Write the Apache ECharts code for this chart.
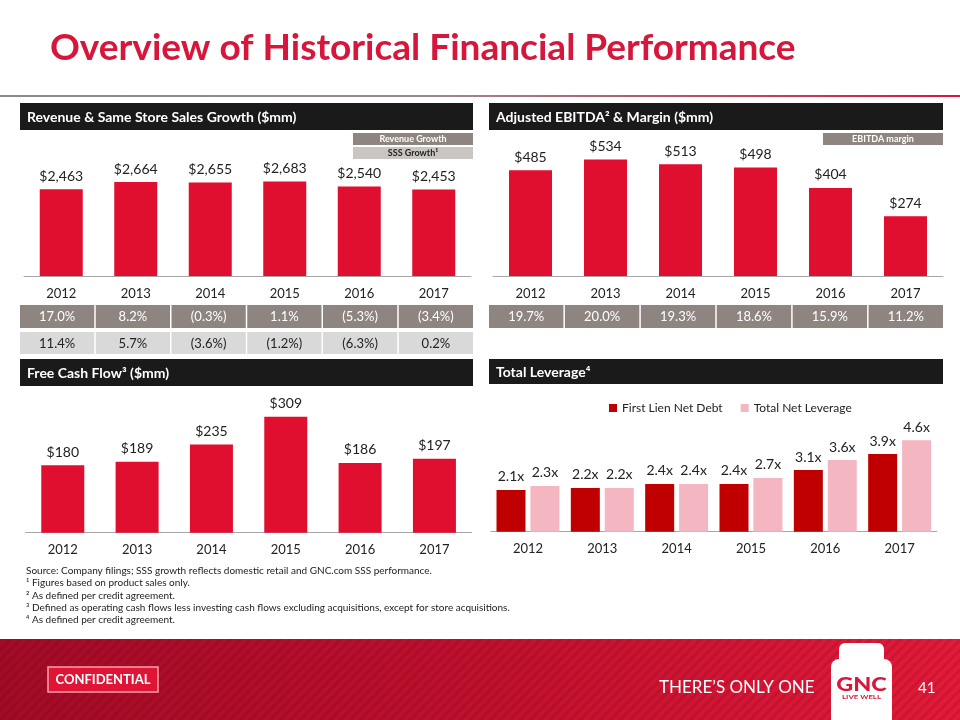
<!DOCTYPE html>
<html><head><meta charset="utf-8">
<script src="https://cdn.jsdelivr.net/npm/echarts@6/dist/echarts.min.js"></script>
<style>html,body{margin:0;padding:0;background:#fff}#c{width:960px;height:720px}</style>
</head><body><div id="c"></div><script>
// ---- data ----
const years = ['2012','2013','2014','2015','2016','2017'];
const revenue = [2463, 2664, 2655, 2683, 2540, 2453];
const revenueGrowth = ['17.0%','8.2%','(0.3%)','1.1%','(5.3%)','(3.4%)'];
const sssGrowth = ['11.4%','5.7%','(3.6%)','(1.2%)','(6.3%)','0.2%'];
const ebitda = [485, 534, 513, 498, 404, 274];
const ebitdaMargin = ['19.7%','20.0%','19.3%','18.6%','15.9%','11.2%'];
const fcf = [180, 189, 235, 309, 186, 197];
const firstLien = [2.1, 2.2, 2.4, 2.4, 3.1, 3.9];
const totalLev = [2.3, 2.2, 2.4, 2.7, 3.6, 4.6];
const footnotes = [
  'Source: Company filings; SSS growth reflects domestic retail and GNC.com SSS performance.',
  '\u00b9 Figures based on product sales only.',
  '\u00b2 As defined per credit agreement.',
  '\u00b3 Defined as operating cash flows less investing cash flows excluding acquisitions, except for store acquisitions.',
  '\u2074 As defined per credit agreement.'
];

const FONT = 'Lato, "Open Sans", sans-serif';
const RED = '#e00e2f';
const DARKCELL = '#8e8581';
const LIGHTCELL = '#d9d9d9';

function stripePattern(){
  const c = document.createElement('canvas');
  c.width = 10; c.height = 10;
  const g = c.getContext('2d');
  g.strokeStyle = 'rgba(60,0,10,0.13)';
  g.lineWidth = 3;
  g.beginPath();
  g.moveTo(-5,5); g.lineTo(5,-5);
  g.moveTo(0,10); g.lineTo(10,0);
  g.moveTo(5,15); g.lineTo(15,5);
  g.stroke();
  return c;
}

const chart = echarts.init(document.getElementById('c'), null, {renderer:'canvas'});
const graphics = [];
function txt(x, y, text, opt, extra){
  graphics.push(Object.assign({type:'text', x:x, y:y, z:10, style:Object.assign({text:text, fill:'#222', font:'13px '+FONT, textAlign:'left', textVerticalAlign:'middle'}, opt||{})}, extra||{}));
}
function rect(x, y, w, h, fill, extra){
  graphics.push(Object.assign({type:'rect', shape:{x:x,y:y,width:w,height:h}, style:{fill:fill}, z:1}, extra||{}));
}

// title
txt(50, 48, 'Overview of Historical Financial Performance', {fill:'#d6163a', font:'bold 37px '+FONT});
graphics.push({type:'rect', shape:{x:0,y:95,width:960,height:2}, z:1, style:{fill:new echarts.graphic.LinearGradient(0,0,1,0,[{offset:0,color:'#8a8a8a'},{offset:0.45,color:'#9a8a8c'},{offset:1,color:'#d8173c'}])}});

// section headers
function header(x, y, w, h, text){
  rect(x, y, w, h, '#1a1a1a');
  txt(x+7, y+h/2+1, text, {fill:'#fff', font:'bold 14px '+FONT});
}
header(20, 103, 453, 27, 'Revenue & Same Store Sales Growth ($mm)');
header(489, 103, 454, 27, 'Adjusted EBITDA\u00b2 & Margin ($mm)');
header(20, 359, 453, 27, 'Free Cash Flow\u00b3 ($mm)');
header(489, 359, 454, 25, 'Total Leverage\u2074');

// small legend boxes
function tag(x, y, w, h, fill, color, text){
  rect(x, y, w, h, fill);
  txt(x+w/2, y+h/2+0.5, text, {fill:color, font:'bold 9px '+FONT, textAlign:'center'});
}
tag(353, 133, 120, 12, DARKCELL, '#fff', 'Revenue Growth');
tag(353, 147, 120, 12, '#c9c5c3', '#222', 'SSS Growth\u00b9');
tag(823, 133, 120, 12, DARKCELL, '#fff', 'EBITDA margin');

// tables
function tableRow(x0, y, totalW, h, fill, color, vals){
  const cw = totalW / vals.length;
  vals.forEach((v, i) => {
    rect(x0 + i*cw, y, cw - 1.5, h, fill);
    txt(x0 + i*cw + (cw-1.5)/2, y + h/2 + 0.5, v, {fill:color, font:'13px '+FONT, textAlign:'center'});
  });
}
tableRow(20, 305, 454.5, 23, DARKCELL, '#fff', revenueGrowth);
tableRow(20, 332, 454.5, 22, LIGHTCELL, '#222', sssGrowth);
tableRow(489, 305, 455.5, 23, DARKCELL, '#fff', ebitdaMargin);

// footnotes
footnotes.forEach((t, i) => txt(26, 571 + i*12.2, t, {font:'10px '+FONT, fill:'#222'}));

// footer
graphics.push({type:'rect', shape:{x:0,y:639,width:960,height:81}, z:1,
  style:{fill:new echarts.graphic.LinearGradient(0,0,1,0,[{offset:0,color:'#a20b26'},{offset:0.5,color:'#c0102e'},{offset:1,color:'#e41a3a'}])}});
graphics.push({type:'rect', shape:{x:0,y:639,width:960,height:81}, z:2,
  style:{fill:{image:stripePattern(), repeat:'repeat'}}});
graphics.push({type:'rect', shape:{x:48,y:667,width:110,height:25}, z:3, style:{fill:'#e01535', stroke:'#f7a0ad', lineWidth:1.5}});
txt(103, 680, 'CONFIDENTIAL', {fill:'#fff', font:'bold 13px '+FONT, textAlign:'center'});
txt(659, 688, 'THERE\u2019S ONLY ONE', {fill:'#fff', font:'17px '+FONT});
txt(918, 688, '41', {fill:'#fff', font:'15px '+FONT});
// bottle
graphics.push({type:'rect', z:3, shape:{x:839,y:643,width:45,height:20,r:[6,6,0,0]}, style:{fill:'#fff'}});
graphics.push({type:'rect', z:3, shape:{x:831,y:659,width:61,height:61,r:[8,8,0,0]}, style:{fill:'#fff'}});
txt(861.5, 685, 'GNC', {fill:'#d8173c', font:'900 18px '+FONT, textAlign:'center'}, {scaleX:1.3, originX:0, originY:0});
txt(861.5, 697, 'LIVE WELL', {fill:'#d8173c', font:'bold 6px '+FONT, textAlign:'center'}, {scaleX:1.3, originX:0, originY:0});

// ---- charts ----
const grids = [
  {left:24, width:447, top:135, height:141},      // revenue (max 4000)
  {left:493, width:450, top:101.6, height:174.4}, // ebitda (max 800)
  {left:25.6, width:446, top:382.7, height:150},  // fcf (max 400)
  {left:490.8, width:446, top:412.3, height:119.4} // leverage (max 6)
];
const maxes = [4000, 800, 400, 6];
const xAxes = grids.map((g, i) => ({
  type:'category', gridIndex:i, data:years,
  axisTick:{show:false},
  axisLine:{show:true, lineStyle:{color:'#a6a6a6', width:1}},
  axisLabel:{color:'#222', fontFamily:FONT, fontSize:13, margin:11}
}));
const yAxes = grids.map((g, i) => ({type:'value', gridIndex:i, min:0, max:maxes[i], show:false, splitLine:{show:false}}));
const dollar = p => '$' + p.value.toLocaleString('en-US');
const lbl = {show:true, position:'top', distance:6, color:'#222', fontFamily:FONT, fontSize:14, formatter:dollar};

chart.setOption({
  animation:false,
  textStyle:{fontFamily:FONT},
  grid:grids,
  xAxis:xAxes,
  yAxis:yAxes,
  legend:{
    show:true, left:604, top:397, itemWidth:8, itemHeight:8, itemGap:18, icon:'rect',
    textStyle:{color:'#222', fontFamily:FONT, fontSize:12},
    data:['First Lien Net Debt','Total Net Leverage']
  },
  graphic:graphics,
  series:[
    {type:'bar', name:'Revenue', xAxisIndex:0, yAxisIndex:0, data:revenue, barWidth:43, itemStyle:{color:RED}, label:lbl},
    {type:'bar', name:'Adjusted EBITDA', xAxisIndex:1, yAxisIndex:1, data:ebitda, barWidth:43, itemStyle:{color:RED}, label:lbl},
    {type:'bar', name:'Free Cash Flow', xAxisIndex:2, yAxisIndex:2, data:fcf, barWidth:43, itemStyle:{color:RED}, label:lbl},
    {type:'bar', name:'First Lien Net Debt', xAxisIndex:3, yAxisIndex:3, data:firstLien, barWidth:29, barGap:'17%', itemStyle:{color:'#c00000'},
      label:{show:true, position:'top', distance:6, color:'#222', fontFamily:FONT, fontSize:14, formatter:p => p.value.toFixed(1)+'x'}},
    {type:'bar', name:'Total Net Leverage', xAxisIndex:3, yAxisIndex:3, data:totalLev, barWidth:29, barGap:'17%', itemStyle:{color:'#f4b6c0'},
      label:{show:true, position:'top', distance:6, color:'#222', fontFamily:FONT, fontSize:14, formatter:p => p.value.toFixed(1)+'x'}}
  ]
});
</script></body></html>
